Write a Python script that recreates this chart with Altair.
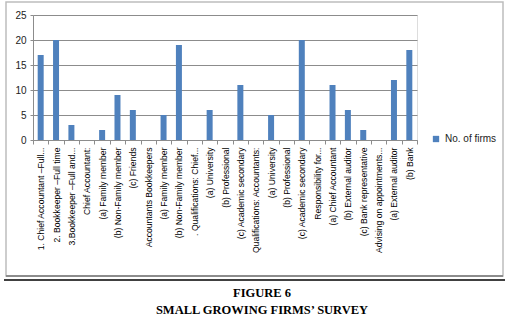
import json
import altair as alt
import pandas as pd

labels = [
    "1. Chief Accountant \u2013Full...",
    "2. Bookkeeper \u2013Full  time",
    "3.Bookkeeper \u2013Full and...",
    "Chief Accountant:",
    "(a)   Family member",
    "(b)   Non-Family member",
    "(c)   Friends",
    "Accountants Bookkeepers",
    "(a)   Family member",
    "(b)   Non-Family member",
    ". Qualifications: Chief...",
    "(a)  University",
    "(b) Professional",
    "(c) Academic secondary",
    "Qualifications: Accountants:",
    "(a) University",
    "(b) Professional",
    "(c) Academic secondary",
    "Responsibility for...",
    "(a)  Chief Accountant",
    "(b)  External auditor",
    "(c)  Bank representative",
    "Advising on appointments...",
    "(a)  External auditor",
    "(b)  Bank",
]
values = [17, 20, 3, 0, 2, 9, 6, 0, 5, 19, 0, 6, 0, 11, 0, 5, 0, 20, 0, 11, 6, 2, 0, 12, 18]
series_name = "No. of firms"
y_ticks = [0, 5, 10, 15, 20, 25]
caption = ["FIGURE 6", "SMALL GROWING FIRMS\u2019 SURVEY"]

df = pd.DataFrame({"idx": list(range(len(labels))), "value": values, "series": series_name})

label_expr = json.dumps(labels) + "[datum.value]"

BAR = "#4f81bd"
FONT = "Liberation Sans"

bars = alt.Chart(df).mark_bar(size=6, color=BAR).encode(
    x=alt.X(
        "idx:O",
        title=None,
        scale=alt.Scale(paddingInner=0, paddingOuter=0),
        axis=alt.Axis(
            labelExpr=label_expr,
            labelAngle=-90,
            labelFontSize=8.6,
            labelFont=FONT,
            labelColor="#000000",
            labelLimit=250,
            labelPadding=3,
            tickBand="extent",
            tickSize=4,
            tickColor="#8c8c8c",
            domainColor="#8c8c8c",
            grid=False,
        ),
    ),
    y=alt.Y(
        "value:Q",
        title=None,
        scale=alt.Scale(domain=[0, 25], nice=False),
        axis=alt.Axis(
            values=y_ticks,
            labelFontSize=10,
            labelFont=FONT,
            labelColor="#222222",
            labelPadding=4,
            tickSize=3,
            tickColor="#8c8c8c",
            domainColor="#8c8c8c",
            gridColor="#8c8c8c",
            gridWidth=1,
        ),
    ),
    color=alt.Color(
        "series:N",
        scale=alt.Scale(domain=[series_name], range=[BAR]),
        legend=alt.Legend(
            title=None,
            orient="none",
            legendX=398,
            legendY=119,
            symbolType="square",
            symbolSize=40,
            symbolStrokeWidth=0,
            labelFontSize=10,
            labelFont=FONT,
            labelColor="#222222",
        ),
    ),
)

one = pd.DataFrame({"k": [0]})
frame = alt.Chart(one).mark_rect(filled=False, stroke="#bdbdbd", strokeWidth=1.5).encode(
    x=alt.value(-27), x2=alt.value(470), y=alt.value(-13), y2=alt.value(261)
)
shadow = alt.Chart(one).mark_rule(color="#8c8c8c", strokeWidth=2).encode(
    x=alt.value(-27), x2=alt.value(470), y=alt.value(261)
)
black = alt.Chart(one).mark_rule(color="#000000", strokeWidth=1.5).encode(
    x=alt.value(-29), x2=alt.value(472), y=alt.value(265)
)

cap_layers = []
for line_text, ypos in zip(caption, [278, 295]):
    cap_layers.append(
        alt.Chart(pd.DataFrame({"t": [line_text]})).mark_text(
            font="Liberation Serif", fontWeight="bold", fontSize=12.5, color="#000000",
            align="center", baseline="middle",
        ).encode(text="t:N", x=alt.value(229), y=alt.value(ypos))
    )

chart = alt.layer(frame, bars, shadow, black, *cap_layers).properties(
    width=384,
    height=125,
    padding={"left": 33, "top": 15, "right": 109, "bottom": 185},
    autosize=alt.AutoSizeParams(type="none"),
).configure_view(fill="#e4e4e4", stroke=None).configure(background="#ffffff")

chart.save("out.html", embed_options={"renderer": "svg", "actions": False})
